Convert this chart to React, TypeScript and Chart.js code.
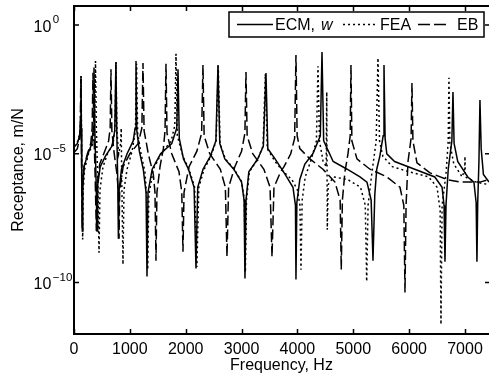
import React, { useEffect, useRef } from "react";
import { Chart, registerables } from "chart.js";

Chart.register(...registerables);

// [frequency Hz, log10 receptance m/N]
const ecmPoints: [number, number][] = [
  [0, -4.75], [60, -4.6], [100, -4.3], [115, -3.8], [125, -1.98], [132, -4.0], [140, -6.2], [150, -8.0], [158, -6.3],
  [180, -5.5], [250, -5.0], [320, -4.6], [345, -4.0], [358, -1.65], [372, -4.0], [395, -6.0], [412, -8.0], [425, -6.2],
  [470, -5.5], [560, -5.1], [680, -4.7], [730, -4.1], [750, -1.45], [765, -4.0], [785, -6.3], [795, -8.3], [808, -6.4],
  [850, -5.6], [950, -5.0], [1060, -4.5], [1095, -4.0], [1110, -1.4], [1125, -4.1], [1170, -4.9], [1240, -5.6],
  [1290, -6.5], [1307, -9.77], [1325, -6.5], [1400, -5.6], [1550, -5.0], [1750, -4.6], [1840, -4.0], [1862, -1.72],
  [1885, -4.4], [1960, -5.2], [2050, -5.6], [2150, -6.3], [2184, -9.46], [2215, -6.3], [2310, -5.6], [2440, -5.1],
  [2540, -4.5], [2578, -1.55], [2610, -4.6], [2700, -5.2], [2860, -5.6], [3000, -6.1], [3045, -6.8], [3061, -9.84],
  [3080, -6.8], [3130, -5.7], [3290, -5.2], [3390, -4.7], [3437, -1.86], [3470, -4.8], [3600, -5.2], [3690, -5.5],
  [3780, -5.8], [3920, -6.3], [3965, -7.0], [3974, -9.88], [3990, -6.9], [4043, -6.0], [4133, -5.4], [4276, -5.0],
  [4410, -4.3], [4440, -1.05], [4470, -4.5], [4640, -5.3], [4890, -5.6], [5120, -5.9], [5245, -6.1], [5320, -6.8],
  [5353, -9.15], [5385, -6.6], [5420, -5.6], [5475, -5.1], [5535, -4.3], [5550, -1.55], [5570, -4.4], [5600, -5.0],
  [5740, -5.3], [6100, -5.6], [6460, -5.9], [6590, -6.3], [6625, -7.0], [6642, -9.19], [6660, -7.0], [6700, -5.6],
  [6765, -4.5], [6785, -2.6], [6805, -4.6], [6870, -5.3], [7050, -5.9], [7160, -6.1], [7200, -6.9], [7214, -9.19],
  [7228, -6.9], [7250, -5.3], [7268, -2.91], [7290, -4.8], [7330, -5.8], [7430, -6.1],
];

const feaPoints: [number, number][] = [
  [0, -4.7], [60, -4.55], [100, -4.25], [115, -3.8], [127, -1.98], [134, -4.0], [145, -6.3], [155, -8.33], [165, -6.4],
  [190, -5.6], [260, -5.0], [340, -4.6], [370, -4.0], [385, -1.4], [400, -4.0], [425, -6.0], [448, -8.84], [465, -6.4],
  [520, -5.5], [600, -5.0], [700, -4.6], [735, -4.0], [752, -1.43], [768, -4.1], [800, -5.0], [835, -4.6], [845, -4.0],
  [855, -6.0], [877, -9.3], [895, -6.4], [950, -5.6], [1040, -4.9], [1100, -4.1], [1120, -1.5], [1140, -4.2],
  [1200, -5.0], [1270, -5.7], [1300, -6.6], [1320, -9.5], [1340, -6.6], [1420, -5.6], [1560, -5.0], [1740, -4.5],
  [1805, -3.9], [1826, -1.12], [1850, -4.3], [1950, -5.1], [2060, -5.6], [2160, -6.3], [2200, -9.4], [2235, -6.3],
  [2330, -5.6], [2450, -5.1], [2545, -4.5], [2583, -1.6], [2615, -4.6], [2710, -5.2], [2870, -5.6], [3005, -6.1],
  [3050, -6.8], [3068, -9.6], [3088, -6.8], [3140, -5.7], [3290, -5.2], [3385, -4.7], [3425, -1.9], [3460, -4.8],
  [3600, -5.3], [3750, -5.7], [3900, -6.0], [4000, -6.4], [4045, -7.0], [4064, -9.5], [4085, -6.8], [4140, -5.9],
  [4250, -5.2], [4340, -4.5], [4368, -1.6], [4395, -4.5], [4460, -5.3], [4515, -5.5], [4525, -2.6], [4535, -7.95],
  [4550, -6.2], [4650, -5.9], [4900, -6.0], [5130, -6.3], [5215, -7.0], [5240, -9.96], [5265, -7.0], [5330, -5.8],
  [5410, -4.5], [5442, -1.28], [5470, -4.5], [5530, -5.1], [5700, -5.5], [6000, -5.7], [6350, -5.9], [6500, -6.3],
  [6555, -7.2], [6570, -11.63], [6590, -7.0], [6660, -5.8], [6700, -4.5], [6713, -2.05], [6730, -4.6], [6800, -5.4],
  [6950, -5.9], [6995, -5.6], [7000, -5.1], [7005, -5.9], [7200, -6.1], [7430, -6.2],
];

const ebPoints: [number, number][] = [
  [0, -4.95], [60, -4.8], [100, -4.4], [113, -3.9], [122, -2.1], [130, -4.0], [138, -6.0], [146, -7.9], [155, -6.2],
  [180, -5.5], [240, -5.0], [300, -4.6], [325, -4.0], [340, -1.85], [355, -4.0], [380, -6.0], [400, -8.0], [415, -6.2],
  [460, -5.4], [550, -4.9], [620, -4.5], [648, -4.0], [662, -1.72], [678, -4.1], [720, -5.0], [770, -5.8], [795, -6.5],
  [806, -8.3], [818, -6.4], [880, -5.5], [1000, -5.0], [1150, -4.6], [1215, -4.0], [1235, -1.47], [1255, -4.1],
  [1330, -5.0], [1420, -5.8], [1450, -6.5], [1468, -9.15], [1485, -6.5], [1540, -5.5], [1600, -4.8], [1630, -4.1],
  [1647, -1.5], [1665, -4.2], [1750, -5.0], [1880, -5.7], [1930, -6.5], [1951, -8.8], [1970, -6.5], [2060, -5.5],
  [2200, -4.9], [2285, -4.2], [2309, -1.55], [2330, -4.3], [2430, -5.0], [2620, -5.6], [2710, -6.3], [2739, -9.0],
  [2768, -6.3], [2880, -5.5], [3000, -4.9], [3060, -4.2], [3079, -1.82], [3100, -4.3], [3200, -5.0], [3400, -5.6],
  [3510, -6.3], [3545, -9.0], [3580, -6.3], [3700, -5.7], [3760, -5.5], [3880, -5.0], [3950, -4.4], [3974, -1.16],
  [3995, -4.3], [4043, -4.8], [4224, -5.2], [4457, -5.6], [4672, -6.1], [4765, -6.8], [4785, -9.5], [4805, -6.8],
  [4851, -5.7], [4905, -5.0], [4945, -4.3], [4959, -1.55], [4975, -4.5], [5066, -5.2], [5299, -5.6], [5603, -5.9],
  [5836, -6.3], [5905, -7.0], [5926, -10.39], [5945, -7.0], [5980, -5.3], [6035, -4.4], [6051, -2.25], [6068, -4.5],
  [6140, -5.35], [6373, -5.74], [6677, -6.0], [6910, -6.1], [7268, -6.1], [7430, -6.0],
];

const xTickValues = [0, 1000, 2000, 3000, 4000, 5000, 6000, 7000];
const yTickExponents = [-10, -5, 0];
const seriesNames = ["ECM, ", "FEA", "EB"];
const xTitle = "Frequency, Hz";
const yTitle = "Receptance, m/N";

const FONT = '"Liberation Sans", Arial, Helvetica, sans-serif';

const toData = (pts: [number, number][]) => pts.map(([f, e]) => ({ x: f, y: Math.pow(10, e) }));

const framePlugin = {
  id: "frame",
  afterDatasetsDraw(chart: any) {
    const { ctx, chartArea } = chart;
    const { left, right, top, bottom } = chartArea;
    const xs = chart.scales.x;
    const ys = chart.scales.y;
    ctx.save();
    ctx.strokeStyle = "#000";
    ctx.lineWidth = 2;
    ctx.setLineDash([]);
    ctx.beginPath();
    ctx.moveTo(right + 2, top);
    ctx.lineTo(left, top);
    ctx.lineTo(left, bottom);
    ctx.lineTo(right + 2, bottom);
    ctx.stroke();
    ctx.lineWidth = 1.5;
    ctx.beginPath();
    for (const v of xTickValues) {
      const px = Math.round(xs.getPixelForValue(v)) + 0.5;
      ctx.moveTo(px, bottom);
      ctx.lineTo(px, bottom - 5);
      ctx.moveTo(px, top);
      ctx.lineTo(px, top + 5);
    }
    for (const e of yTickExponents) {
      const py = ys.getPixelForValue(Math.pow(10, e));
      ctx.moveTo(left, py);
      ctx.lineTo(left + 5, py);
      ctx.moveTo(right + 1, py);
      ctx.lineTo(right - 4, py);
    }
    ctx.stroke();

    // y tick labels: 10 with superscript exponent
    ctx.fillStyle = "#000";
    ctx.textAlign = "left";
    ctx.textBaseline = "alphabetic";
    for (const e of yTickExponents) {
      const py = ys.getPixelForValue(Math.pow(10, e));
      ctx.font = `16px ${FONT}`;
      ctx.fillText("10", 33.5, py + 6.5);
      const w = ctx.measureText("10").width;
      ctx.font = `11.5px ${FONT}`;
      ctx.fillText(e < 0 ? "\u2212" + String(-e) : String(e), 33.5 + w + 1.5, py - 2);
    }

    // legend
    const bx = 229, by = 12, bw = 255, bh = 25;
    ctx.fillStyle = "#fff";
    ctx.fillRect(bx, by, bw, bh);
    ctx.lineWidth = 1.5;
    ctx.strokeRect(bx, by, bw, bh);
    const ly = 24.5;
    ctx.lineWidth = 1.5;
    ctx.beginPath();
    ctx.setLineDash([]);
    ctx.moveTo(237, ly);
    ctx.lineTo(273, ly);
    ctx.stroke();
    ctx.beginPath();
    ctx.setLineDash([2, 3]);
    ctx.moveTo(343, ly);
    ctx.lineTo(378, ly);
    ctx.stroke();
    ctx.beginPath();
    ctx.setLineDash([12, 4]);
    ctx.moveTo(418, ly);
    ctx.lineTo(448, ly);
    ctx.stroke();
    ctx.setLineDash([]);
    ctx.fillStyle = "#000";
    ctx.font = `16px ${FONT}`;
    ctx.fillText(seriesNames[0], 275, 30);
    ctx.font = `italic 16px ${FONT}`;
    ctx.fillText("w", 321, 30);
    ctx.font = `16px ${FONT}`;
    ctx.fillText(seriesNames[1], 380, 30);
    ctx.fillText(seriesNames[2], 457, 30);
    ctx.restore();
  },
};

export default function App() {
  const ref = useRef<HTMLCanvasElement | null>(null);
  useEffect(() => {
    document.body.style.margin = "0";
    const canvas = ref.current;
    if (!canvas) return;
    const common = { pointRadius: 0, borderColor: "#000", borderWidth: 1.5, fill: false, tension: 0 };
    const chart = new Chart(canvas, {
      type: "line",
      data: {
        datasets: [
          { ...common, label: "ECM, w", data: toData(ecmPoints) },
          { ...common, label: "FEA", data: toData(feaPoints), borderDash: [2, 3] },
          { ...common, label: "EB", data: toData(ebPoints), borderDash: [10, 4] },
        ],
      },
      options: {
        animation: false,
        responsive: false,
        devicePixelRatio: 1,
        layout: { padding: { top: 6, right: 0, bottom: 0, left: 0 } },
        plugins: { legend: { display: false }, tooltip: { enabled: false } },
        scales: {
          x: {
            type: "linear",
            min: 0,
            max: 7430,
            grid: { display: false, drawTicks: false },
            border: { display: false },
            ticks: {
              color: "#000",
              font: { family: FONT, size: 16 },
              padding: 6,
              maxRotation: 0,
              autoSkip: false,
              callback: (v: any) => String(v),
            },
            title: { display: true, text: xTitle, color: "#000", font: { family: FONT, size: 16 }, padding: { top: 0, bottom: 6 } },
            afterBuildTicks: (s: any) => { s.ticks = xTickValues.map((v) => ({ value: v })); },
            afterFit: (s: any) => { s.height = 47; s.paddingLeft = 0; s.paddingRight = 0; },
          },
          y: {
            type: "logarithmic",
            min: 1e-12,
            max: Math.pow(10, 0.74),
            grid: { display: false, drawTicks: false },
            border: { display: false },
            ticks: { display: false },
            title: { display: true, text: yTitle, color: "#000", font: { family: FONT, size: 16 }, padding: { top: 9, bottom: 0 } },
            afterBuildTicks: (s: any) => { s.ticks = yTickExponents.map((e) => ({ value: Math.pow(10, e) })); },
            afterFit: (s: any) => { s.width = 74; s.paddingTop = 0; s.paddingBottom = 0; },
          },
        },
      },
      plugins: [framePlugin],
    });
    return () => chart.destroy();
  }, []);
  return (
    <div style={{ position: "absolute", left: 0, top: 0, width: 489, height: 381, background: "#fff" }}>
      <canvas ref={ref} width={489} height={381} style={{ width: 489, height: 381, display: "block" }} />
    </div>
  );
}
